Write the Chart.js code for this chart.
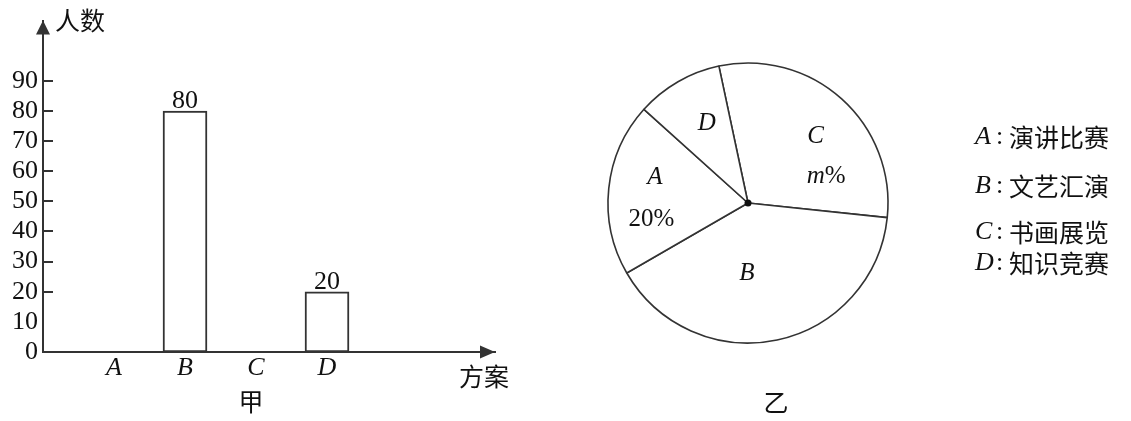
<!DOCTYPE html>
<html><head><meta charset="utf-8">
<script src="https://cdn.jsdelivr.net/npm/chart.js@4"></script>
<style>
html,body{margin:0;padding:0;background:#fff;width:1131px;height:421px;overflow:hidden}
#bar{position:absolute;left:0;top:0}
#pie{position:absolute;left:560px;top:0}
</style></head><body>
<canvas id="bar" width="560" height="421"></canvas>
<canvas id="pie" width="571" height="421"></canvas>
<script>
// ---- data ----
const categories = ['A', 'B', 'C', 'D'];
const counts = [null, 80, null, 20];
const yTickValues = [0, 10, 20, 30, 40, 50, 60, 70, 80, 90];
const yTickMarks = [20, 30, 40, 50, 60, 70, 80, 90];
const yAxisTitle = '人数';
const xAxisTitle = '方案';
const barCaption = '甲';
const pieOrder = ['C', 'B', 'A', 'D'];
const piePercents = [30, 40, 20, 10];
const pieLabelText = { C: ['C', 'm%'], B: ['B'], A: ['A', '20%'], D: ['D'] };
const legendLetters = ['A', 'B', 'C', 'D'];
const legendNames = ['演讲比赛', '文艺汇演', '书画展览', '知识竞赛'];
const pieCaption = '乙';

// ---- styles ----
const INK = '#333';
const TXT = '#111';
const SERIF = '"Liberation Serif","Times New Roman",serif';
const CJK = '"Noto Sans CJK SC","Noto Sans",sans-serif';
const pieLabelPos = {
  C: [{ t: 0.53, f: 0.68 }, { t: 0.77, f: 0.59 }],
  B: [{ t: 0.59, f: 0.50 }],
  A: [{ t: 0.63, f: 0.69 }, { t: 0.28, f: 0.70 }],
  D: [{ t: 0.57, f: 0.64 }]
};
const legendRowsY = [137, 186, 232, 263];

function drawRich(ctx, text, x, y, size, align) {
  const parts = [];
  for (const ch of text) {
    const it = /[A-Za-z]/.test(ch);
    const last = parts[parts.length - 1];
    if (last && last.it === it) last.s += ch; else parts.push({ s: ch, it });
  }
  let total = 0;
  parts.forEach(p => { ctx.font = (p.it ? 'italic ' : '') + size + 'px ' + SERIF; p.w = ctx.measureText(p.s).width; total += p.w; });
  let cx = align === 'left' ? x : x - total / 2;
  ctx.textAlign = 'left';
  parts.forEach(p => { ctx.font = (p.it ? 'italic ' : '') + size + 'px ' + SERIF; ctx.fillText(p.s, cx, y); cx += p.w; });
  return cx;
}

const barDeco = {
  id: 'barDeco',
  afterDraw(chart) {
    const ctx = chart.ctx, ys = chart.scales.y, a = chart.chartArea;
    ctx.save();
    ctx.fillStyle = INK; ctx.strokeStyle = INK; ctx.lineWidth = 2;
    ctx.beginPath(); ctx.moveTo(a.left, a.top); ctx.lineTo(a.left - 7, a.top + 14); ctx.lineTo(a.left + 7, a.top + 14); ctx.closePath(); ctx.fill();
    ctx.beginPath(); ctx.moveTo(a.right, a.bottom); ctx.lineTo(a.right - 15, a.bottom - 6.5); ctx.lineTo(a.right - 15, a.bottom + 6.5); ctx.closePath(); ctx.fill();
    yTickMarks.forEach(v => {
      const y = Math.round(ys.getPixelForValue(v));
      ctx.beginPath(); ctx.moveTo(a.left, y); ctx.lineTo(a.left + 10, y); ctx.stroke();
    });
    const meta = chart.getDatasetMeta(0);
    ctx.fillStyle = TXT; ctx.font = '26px ' + SERIF; ctx.textAlign = 'center'; ctx.textBaseline = 'alphabetic';
    meta.data.forEach((el, i) => { if (counts[i] == null) return; ctx.fillText(String(counts[i]), el.x, el.y - 3); });
    ctx.font = '25px ' + CJK; ctx.textBaseline = 'middle'; ctx.textAlign = 'left';
    ctx.fillText(yAxisTitle, 55, 20);
    ctx.textAlign = 'center';
    ctx.fillText(xAxisTitle, 484, 376);
    ctx.fillText(barCaption, 251, 401);
    ctx.restore();
  }
};

new Chart(document.getElementById('bar'), {
  type: 'bar',
  data: {
    datasets: [{
      data: categories.map((c, i) => ({ x: i + 1, y: counts[i] })),
      backgroundColor: '#fff', borderColor: INK, borderWidth: 2, borderSkipped: false, barThickness: 44
    }]
  },
  options: {
    responsive: false, animation: false, events: [],
    layout: { padding: { left: 0, top: 13, right: 65, bottom: 0 } },
    plugins: { legend: { display: false }, tooltip: { enabled: false } },
    scales: {
      x: {
        type: 'linear', min: 0, max: 6.366, offset: false,
        grid: { display: false, drawTicks: false, offset: false },
        border: { color: INK, width: 2 },
        ticks: {
          stepSize: 1, autoSkip: false, maxRotation: 0, padding: 1, color: TXT,
          font: { family: SERIF, size: 26, style: 'italic' },
          callback: v => (Number.isInteger(v) && v >= 1 && v <= categories.length) ? categories[v - 1] : ''
        },
        afterFit: s => { s.height = 69; }
      },
      y: {
        min: 0, max: 110,
        grid: { display: false, drawTicks: false },
        border: { color: INK, width: 2 },
        ticks: {
          stepSize: 10, autoSkip: false, padding: 5, color: TXT,
          font: { family: SERIF, size: 26 },
          callback: v => yTickValues.includes(v) ? String(v) : ''
        },
        afterFit: s => { s.width = 43; }
      }
    }
  },
  plugins: [barDeco]
});

const pieDeco = {
  id: 'pieDeco',
  afterDraw(chart) {
    const ctx = chart.ctx, meta = chart.getDatasetMeta(0);
    const cx = meta.data[0].x, cy = meta.data[0].y;
    ctx.save();
    ctx.fillStyle = TXT;
    ctx.beginPath(); ctx.arc(cx, cy, 3.5, 0, Math.PI * 2); ctx.fill();
    ctx.textBaseline = 'middle';
    meta.data.forEach((el, i) => {
      const key = pieOrder[i];
      pieLabelText[key].forEach((txt, j) => {
        const p = pieLabelPos[key][j];
        const ang = el.startAngle + p.t * (el.endAngle - el.startAngle);
        const r = p.f * el.outerRadius;
        drawRich(ctx, txt, cx + r * Math.cos(ang), cy + r * Math.sin(ang), 25, 'center');
      });
    });
    legendLetters.forEach((L, i) => {
      const y = legendRowsY[i];
      ctx.font = 'italic 26px ' + SERIF; ctx.textAlign = 'left';
      ctx.fillText(L, 975 - 560, y);
      ctx.font = '26px ' + SERIF;
      ctx.fillText(':', 996 - 560, y);
      ctx.font = '25px ' + CJK;
      ctx.fillText(legendNames[i], 1009 - 560, y);
    });
    ctx.font = '25px ' + CJK; ctx.textAlign = 'center';
    ctx.fillText(pieCaption, 776 - 560, 402);
    ctx.restore();
  }
};

new Chart(document.getElementById('pie'), {
  type: 'pie',
  data: {
    labels: pieOrder,
    datasets: [{
      data: piePercents,
      backgroundColor: '#fff', borderColor: INK, borderWidth: 1.6, hoverOffset: 0, radius: 140
    }]
  },
  options: {
    responsive: false, animation: false, events: [],
    rotation: -12,
    layout: { padding: { left: 38, right: 233, top: 53, bottom: 68 } },
    plugins: { legend: { display: false }, tooltip: { enabled: false } }
  },
  plugins: [pieDeco]
});
</script>
</body></html>
